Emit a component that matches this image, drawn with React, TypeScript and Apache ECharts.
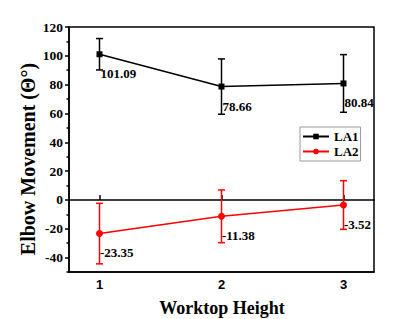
import React, { useEffect, useRef } from "react";
import * as echarts from "echarts";

// Worktop heights on the x axis
const heights = [1, 2, 3];
// Mean elbow movement per height
const la1Mean = [101.09, 78.66, 80.84];
const la2Mean = [-23.35, -11.38, -3.52];
// Error-bar half widths (standard deviations)
const la1Err = [10.9, 19.2, 20.0];
const la2Err = [21.0, 18.3, 16.9];
// Axis tick values
const xTicks = [1, 2, 3];
const yMajor = [-40, -20, 0, 20, 40, 60, 80, 100, 120];
const yMinor = [-50, -30, -10, 10, 30, 50, 70, 90, 110];

const SERIF = "'Liberation Serif', 'Times New Roman', serif";
const SANS = "'Liberation Sans', Arial, sans-serif";

function errData(means: number[], errs: number[]) {
  return heights.map((h, i) => [h, means[i] - errs[i], means[i] + errs[i]]);
}

function errorBarSeries(name: string, color: string, means: number[], errs: number[]) {
  return {
    type: "custom",
    name: name + " err",
    data: errData(means, errs),
    z: 2,
    silent: true,
    renderItem: (params: any, api: any) => {
      const x = api.value(0);
      const lo = api.coord([x, api.value(1)]);
      const hi = api.coord([x, api.value(2)]);
      const cap = 3.5;
      const style = { stroke: color, lineWidth: 1.5 };
      return {
        type: "group",
        children: [
          { type: "line", shape: { x1: hi[0], y1: hi[1], x2: lo[0], y2: lo[1] }, style },
          { type: "line", shape: { x1: hi[0] - cap, y1: hi[1], x2: hi[0] + cap, y2: hi[1] }, style },
          { type: "line", shape: { x1: lo[0] - cap, y1: lo[1], x2: lo[0] + cap, y2: lo[1] }, style },
        ],
      };
    },
  };
}

function lineSeries(name: string, color: string, symbol: string, means: number[]) {
  return {
    type: "line",
    name,
    data: heights.map((h, i) => [h, means[i]]),
    symbol,
    symbolSize: symbol === "rect" ? 6 : 7,
    z: 3,
    itemStyle: { color },
    lineStyle: { color, width: 1.5 },
    label: {
      show: true,
      position: [4, 16],
      formatter: (p: any) => p.value[1].toFixed(2),
      color: "#000",
      fontFamily: SERIF,
      fontWeight: "bold",
      fontSize: 13,
    },
  };
}

export default function App() {
  const ref = useRef<HTMLDivElement>(null);

  useEffect(() => {
    if (!ref.current) return;
    const chart = echarts.init(ref.current, null, { renderer: "svg" });
    chart.setOption({
      animation: false,
      backgroundColor: "#fff",
      grid: {
        left: 69,
        top: 27,
        right: 20,
        bottom: 47,
        show: true,
        borderColor: "#000",
        borderWidth: 1.5,
        backgroundColor: "transparent",
      },
      xAxis: [
        {
          // zero line with ticks pointing up
          type: "value",
          min: 0.75,
          max: 3.25,
          position: "bottom",
          axisLine: { show: true, onZero: true, onZeroAxisIndex: 0, lineStyle: { color: "#000", width: 1.5 } },
          axisTick: { show: true, inside: true, length: 5, customValues: xTicks, lineStyle: { color: "#000", width: 1.5 } },
          axisLabel: { show: false },
          splitLine: { show: false },
        },
        {
          // bottom frame with the height labels
          type: "value",
          min: 0.75,
          max: 3.25,
          position: "bottom",
          axisLine: { show: true, onZero: false, lineStyle: { color: "#000", width: 1.5 } },
          axisTick: { show: false },
          axisLabel: {
            customValues: xTicks,
            color: "#000",
            fontFamily: SANS,
            fontWeight: "bold",
            fontSize: 13,
            margin: 6,
          },
          splitLine: { show: false },
        },
      ],
      yAxis: [
        {
          type: "value",
          position: "left",
          min: -50,
          max: 120,
          interval: 10,
          axisLine: { show: true, onZero: false, lineStyle: { color: "#000", width: 1.5 } },
          axisTick: { show: true, length: 4, customValues: yMajor, lineStyle: { color: "#000", width: 1.5 } },
          axisLabel: {
            customValues: yMajor,
            color: "#000",
            fontFamily: SERIF,
            fontWeight: "bold",
            fontSize: 13.5,
            margin: 6,
          },
          splitLine: { show: false },
        },
        {
          // minor ticks between the labelled values
          type: "value",
          position: "left",
          offset: 0,
          min: -50,
          max: 120,
          interval: 10,
          axisLine: { show: false, onZero: false },
          axisTick: { show: true, length: 2.5, customValues: yMinor, lineStyle: { color: "#000", width: 1.5 } },
          axisLabel: { show: false },
          splitLine: { show: false },
        },
      ],
      legend: {
        data: ["LA1", "LA2"],
        orient: "vertical",
        left: 300,
        top: 127,
        padding: [3, 2, 3, 2],
        itemGap: 2,
        itemWidth: 26,
        itemHeight: 7,
        borderColor: "#999",
        borderWidth: 1,
        backgroundColor: "#fff",
        textStyle: {
          color: "#000",
          fontFamily: SERIF,
          fontWeight: "bold",
          fontSize: 13,
          lineHeight: 13,
        },
      },
      graphic: [
        {
          type: "text",
          x: 28,
          y: 159,
          rotation: Math.PI / 2,
          style: {
            text: "Elbow Movement (Θ°)",
            fill: "#000",
            font: `bold 20px ${SERIF}`,
            align: "center",
            verticalAlign: "middle",
          },
        },
        {
          type: "text",
          x: 222,
          y: 308,
          style: {
            text: "Worktop Height",
            fill: "#000",
            font: `bold 18px ${SERIF}`,
            align: "center",
            verticalAlign: "middle",
          },
        },
      ],
      series: [
        errorBarSeries("LA1", "#000", la1Mean, la1Err),
        errorBarSeries("LA2", "#ff0000", la2Mean, la2Err),
        lineSeries("LA1", "#000", "rect", la1Mean),
        lineSeries("LA2", "#ff0000", "circle", la2Mean),
      ],
    });
    return () => chart.dispose();
  }, []);

  return (
    <div
      ref={ref}
      style={{ position: "fixed", left: 0, top: 0, width: 394, height: 319 }}
    />
  );
}
